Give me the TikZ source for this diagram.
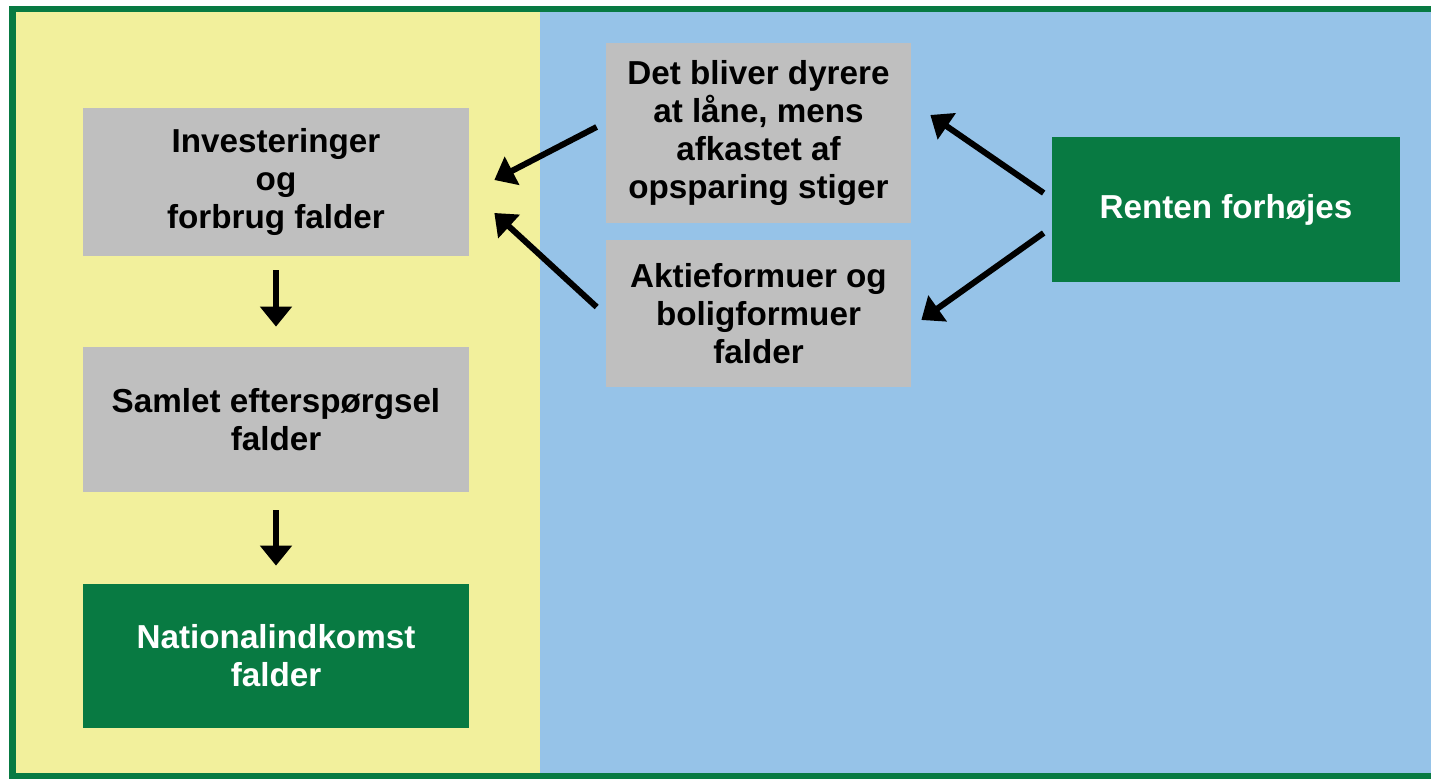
\documentclass[tikz,border=0pt]{standalone}
\usepackage{fontspec}
\setmainfont{Liberation Sans}
\usetikzlibrary{arrows.meta}
\definecolor{bggul}{RGB}{242,240,156}
\definecolor{bgblaa}{RGB}{150,195,232}
\definecolor{kassegraa}{RGB}{191,191,191}
\definecolor{moerkgroen}{RGB}{8,122,66}
\begin{document}
\begin{tikzpicture}[
  box/.style={fill=kassegraa, align=center, inner sep=0pt,
    font=\fontsize{18.9}{21.6}\selectfont\bfseries},
  gbox/.style={box, fill=moerkgroen, text=white},
  arr/.style={line width=0.12cm, -{Triangle[length=0.4cm,width=0.62cm]}}
  ]
  \useasboundingbox (0,0) rectangle (28.62,15.58);
  \fill[bggul] (0.25,0.06) rectangle (10.8,15.4);
  \fill[bgblaa] (10.8,0.06) rectangle (28.8,15.4);
  \draw[moerkgroen, line width=0.13cm] (0.25,0.06) rectangle (28.8,15.4);

  \node[box, minimum width=7.72cm, minimum height=2.96cm] (A) at (5.52,11.94) {Investeringer\\og\\forbrug falder};
  \node[box, minimum width=7.72cm, minimum height=2.9cm] (B) at (5.52,7.19) {Samlet efterspørgsel\\falder};
  \node[gbox, minimum width=7.72cm, minimum height=2.88cm] (C) at (5.52,2.46) {Nationalindkomst\\falder};
  \node[box, minimum width=6.1cm, minimum height=3.6cm] (D) at (15.17,12.92) {Det bliver dyrere\\at låne, mens\\afkastet af\\opsparing stiger};
  \node[box, minimum width=6.1cm, minimum height=2.94cm] (E) at (15.17,9.31) {Aktieformuer og\\boligformuer\\falder};
  \node[gbox, minimum width=6.96cm, minimum height=2.9cm] (F) at (24.52,11.39) {Renten forhøjes};

  \draw[arr, shorten <=0.28cm, shorten >=0.4cm] (A) -- (B);
  \draw[arr, shorten <=0.36cm, shorten >=0.36cm] (B) -- (C);
  \draw[arr] ([xshift=-0.18cm,yshift=0.12cm]D.west) -- ([xshift=0.5cm,yshift=0.04cm]A.east);
  \draw[arr] ([xshift=-0.18cm,yshift=0.13cm]E.west) -- ([xshift=0.5cm,yshift=-0.62cm]A.east);
  \draw[arr] ([xshift=-0.16cm,yshift=0.33cm]F.west) -- ([xshift=0.38cm,yshift=0.36cm]D.east);
  \draw[arr] ([xshift=-0.16cm,yshift=-0.47cm]F.west) -- ([xshift=0.2cm,yshift=-0.13cm]E.east);

\end{tikzpicture}
\end{document}
